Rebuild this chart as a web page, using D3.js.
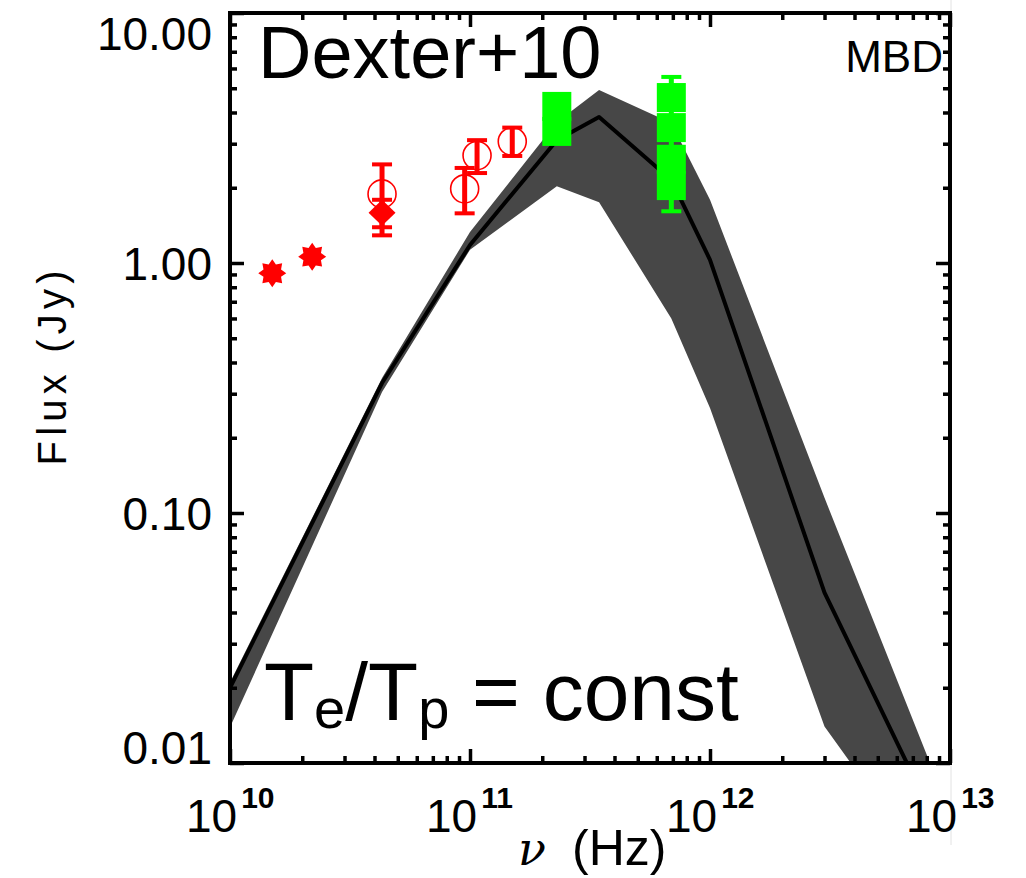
<!DOCTYPE html>
<html>
<head>
<meta charset="utf-8">
<script src="https://cdn.jsdelivr.net/npm/d3@7"></script>
<style>
  body { margin: 0; background: #fff; }
</style>
</head>
<body>
<script>
// model SED (median line and spread band), frequencies in Hz, flux in Jy
const modelFreq = [1e10, 4.3e10, 1e11, 2.3e11, 3.45e11, 6.9e11, 1e12, 3e12, 1e13];
const modelFlux = [0.020, 0.331, 1.18, 3.1, 3.84, 2.15, 1.03, 0.048, 0.0044];
const modelHigh = [0.021, 0.347, 1.33, 3.66, 4.92, 3.63, 1.79, 0.115, 0.0063];
const modelLow = [0.0139, 0.305, 1.13, 2.03, 1.75, 0.60, 0.263, 0.014, 0.0028];

// radio data (red)
const starFreq = [1.5e10, 2.2e10];
const starFlux = [0.91, 1.06];
const diamondFreq = [4.3e10];
const diamondFlux = [1.59];
const diamondLo = [1.29];
const diamondHi = [1.79];
const circleFreq = [4.3e10, 9.5e10, 1.07e11, 1.5e11];
const circleFlux = [1.89, 1.98, 2.69, 3.06];
const circleLo = [1.39, 1.58, 2.29, 2.68];
const circleHi = [2.48, 2.40, 3.10, 3.48];

// submm data (green)
const squareFreq = [2.3e11, 2.3e11, 6.9e11, 6.9e11, 6.9e11, 6.9e11];
const squareFlux = [4.23, 3.36, 4.59, 3.48, 2.60, 2.04];
const greenErrFreq = [6.9e11];
const greenErrLo = [1.61];
const greenErrHi = [5.55];

const yTickLabels = ["0.01", "0.10", "1.00", "10.00"];
const yTickValues = [0.01, 0.1, 1, 10];
const xTickValues = [1e10, 1e11, 1e12, 1e13];
const xTickExp = ["10", "11", "12", "13"];

const width = 1026, height = 878;
const margin = { left: 230, right: 76, top: 13, bottom: 115 };

const x = d3.scaleLog().domain([1e10, 1e13]).range([margin.left, width - margin.right]);
const y = d3.scaleLog().domain([0.01, 10]).range([height - margin.bottom, margin.top]);

const svg = d3.select("body").append("svg")
  .attr("width", width)
  .attr("height", height)
  .style("font-family", "'Liberation Sans', Arial, sans-serif");

// faint edge line from the original image
svg.append("line")
  .attr("x1", 951).attr("x2", 951).attr("y1", 0).attr("y2", 845)
  .attr("stroke", "#e2e2e2").attr("stroke-width", 1);

svg.append("clipPath").attr("id", "plot-clip")
  .append("rect")
  .attr("x", x.range()[0]).attr("y", y.range()[1])
  .attr("width", x.range()[1] - x.range()[0])
  .attr("height", y.range()[0] - y.range()[1]);

const model = modelFreq.map((f, i) => ({ f, v: modelFlux[i], lo: modelLow[i], hi: modelHigh[i] }));

const plot = svg.append("g").attr("clip-path", "url(#plot-clip)");

plot.append("path")
  .datum(model)
  .attr("fill", "#474747")
  .attr("d", d3.area().x(d => x(d.f)).y0(d => y(d.lo)).y1(d => y(d.hi)));

plot.append("path")
  .datum(model)
  .attr("fill", "none")
  .attr("stroke", "#000")
  .attr("stroke-width", 4)
  .attr("stroke-linejoin", "round")
  .attr("d", d3.line().x(d => x(d.f)).y(d => y(d.v)));

// error bar helper
function errorBars(g, freqs, lo, hi, color, capW) {
  const data = freqs.map((f, i) => ({ f, lo: lo[i], hi: hi[i] }));
  const eb = g.append("g").attr("stroke", color).attr("stroke-width", 4);
  eb.selectAll(".v").data(data).join("line")
    .attr("x1", d => x(d.f)).attr("x2", d => x(d.f))
    .attr("y1", d => y(d.lo)).attr("y2", d => y(d.hi))
    .attr("stroke-width", 5);
  eb.selectAll(".lo").data(data).join("line")
    .attr("x1", d => x(d.f) - capW / 2).attr("x2", d => x(d.f) + capW / 2)
    .attr("y1", d => y(d.lo)).attr("y2", d => y(d.lo));
  eb.selectAll(".hi").data(data).join("line")
    .attr("x1", d => x(d.f) - capW / 2).attr("x2", d => x(d.f) + capW / 2)
    .attr("y1", d => y(d.hi)).attr("y2", d => y(d.hi));
}

const red = "#ff0000", green = "#00ff00";
const pts = svg.append("g");

// 8-point stars
const starPts = d3.range(16).map(i => {
  const a = (i * Math.PI) / 8;
  const r = i % 2 === 0 ? 14 : 9.5;
  return [r * Math.sin(a), -r * Math.cos(a)];
});
pts.selectAll(".star").data(starFreq.map((f, i) => ({ f, v: starFlux[i] }))).join("path")
  .attr("transform", d => `translate(${x(d.f)},${y(d.v)})`)
  .attr("fill", red)
  .attr("d", d3.line().curve(d3.curveLinearClosed)(starPts));

// diamonds with error bars
errorBars(pts, diamondFreq, diamondLo, diamondHi, red, 20);
pts.selectAll(".diamond").data(diamondFreq.map((f, i) => ({ f, v: diamondFlux[i] }))).join("path")
  .attr("transform", d => `translate(${x(d.f)},${y(d.v)})`)
  .attr("fill", red)
  .attr("d", "M0,-13L13.5,0L0,13L-13.5,0Z");

// open circles with error bars
errorBars(pts, circleFreq, circleLo, circleHi, red, 20);
pts.selectAll(".circ").data(circleFreq.map((f, i) => ({ f, v: circleFlux[i] }))).join("circle")
  .attr("cx", d => x(d.f)).attr("cy", d => y(d.v)).attr("r", 14)
  .attr("fill", "none").attr("stroke", red).attr("stroke-width", 1.6);

// green squares with error bar
errorBars(pts, greenErrFreq, greenErrLo, greenErrHi, green, 20);
pts.selectAll(".sq").data(squareFreq.map((f, i) => ({ f, v: squareFlux[i] }))).join("rect")
  .attr("x", d => x(d.f) - 14.5).attr("y", d => y(d.v) - 14.5)
  .attr("width", 29).attr("height", 29)
  .attr("fill", green);

// axes: ticks pointing inward on all four sides
const xMajor = x.ticks().filter(v => Math.abs(Math.log10(v) - Math.round(Math.log10(v))) < 1e-9);
const xMinor = x.ticks().filter(v => !xMajor.includes(v));
const yMajor = y.ticks().filter(v => Math.abs(Math.log10(v) - Math.round(Math.log10(v))) < 1e-9);
const yMinor = y.ticks().filter(v => !yMajor.includes(v));

function drawAxis(axisFn, scale, transform, values, size) {
  const g = svg.append("g")
    .attr("transform", transform)
    .call(axisFn(scale).tickValues(values).tickSize(-size).tickFormat(""));
  g.select(".domain").remove();
  g.selectAll(".tick line").attr("stroke", "#000").attr("stroke-width", 3.5);
}
const [x0, x1] = x.range();
const [y0, y1] = y.range();
drawAxis(d3.axisBottom, x, `translate(0,${y0})`, xMajor, 14);
drawAxis(d3.axisBottom, x, `translate(0,${y0})`, xMinor, 7);
drawAxis(d3.axisTop, x, `translate(0,${y1})`, xMajor, 14);
drawAxis(d3.axisTop, x, `translate(0,${y1})`, xMinor, 7);
drawAxis(d3.axisLeft, y, `translate(${x0},0)`, yMajor, 14);
drawAxis(d3.axisLeft, y, `translate(${x0},0)`, yMinor, 7);
drawAxis(d3.axisRight, y, `translate(${x1},0)`, yMajor, 14);
drawAxis(d3.axisRight, y, `translate(${x1},0)`, yMinor, 7);

svg.append("rect")
  .attr("x", x0).attr("y", y1)
  .attr("width", x1 - x0).attr("height", y0 - y1)
  .attr("fill", "none").attr("stroke", "#000").attr("stroke-width", 4);

// y tick labels, kept inside the axis span like IDL does
svg.append("g")
  .attr("font-size", 46)
  .attr("text-anchor", "end")
  .selectAll("text").data(yTickValues).join("text")
  .attr("x", x0 - 18)
  .attr("y", d => Math.min(Math.max(y(d), y1 + 20), y0 - 16))
  .attr("dy", "0.36em")
  .text((d, i) => yTickLabels[i]);

// x tick labels 10^n
const xl = svg.append("g").selectAll("text").data(xTickValues).join("text")
  .attr("x", d => x(d) - 44)
  .attr("y", 832)
  .attr("font-size", 46);
xl.append("tspan").text("10");
xl.append("tspan")
  .attr("dy", -24)
  .attr("dx", 4)
  .attr("font-size", 30)
  .attr("font-weight", "bold")
  .text((d, i) => xTickExp[i]);

// axis titles
const xt = svg.append("text").attr("y", 865).attr("font-size", 50);
xt.append("tspan").attr("x", 518).attr("font-style", "italic")
  .attr("font-family", "'DejaVu Serif', serif").attr("font-size", 46).text("ν");
xt.append("tspan").attr("x", 572).text("(Hz)");

svg.append("text")
  .attr("transform", "translate(66,368) rotate(-90)")
  .attr("text-anchor", "middle")
  .attr("font-size", 40)
  .attr("textLength", 195)
  .attr("lengthAdjust", "spacing")
  .text("Flux (Jy)");

// annotations
svg.append("text")
  .attr("x", 258).attr("y", 78)
  .attr("font-size", 74)
  .text("Dexter+10");

svg.append("text")
  .attr("x", 943).attr("y", 72)
  .attr("text-anchor", "end")
  .attr("font-size", 44)
  .text("MBD");

const tt = svg.append("text").attr("x", 264).attr("y", 720).attr("font-size", 82);
tt.append("tspan").text("T");
tt.append("tspan").attr("dy", 8).attr("font-size", 56).text("e");
tt.append("tspan").attr("dy", -8).text("/T");
tt.append("tspan").attr("dy", 8).attr("font-size", 56).text("p");
tt.append("tspan").attr("dy", -8).text(" = const");
</script>
</body>
</html>
